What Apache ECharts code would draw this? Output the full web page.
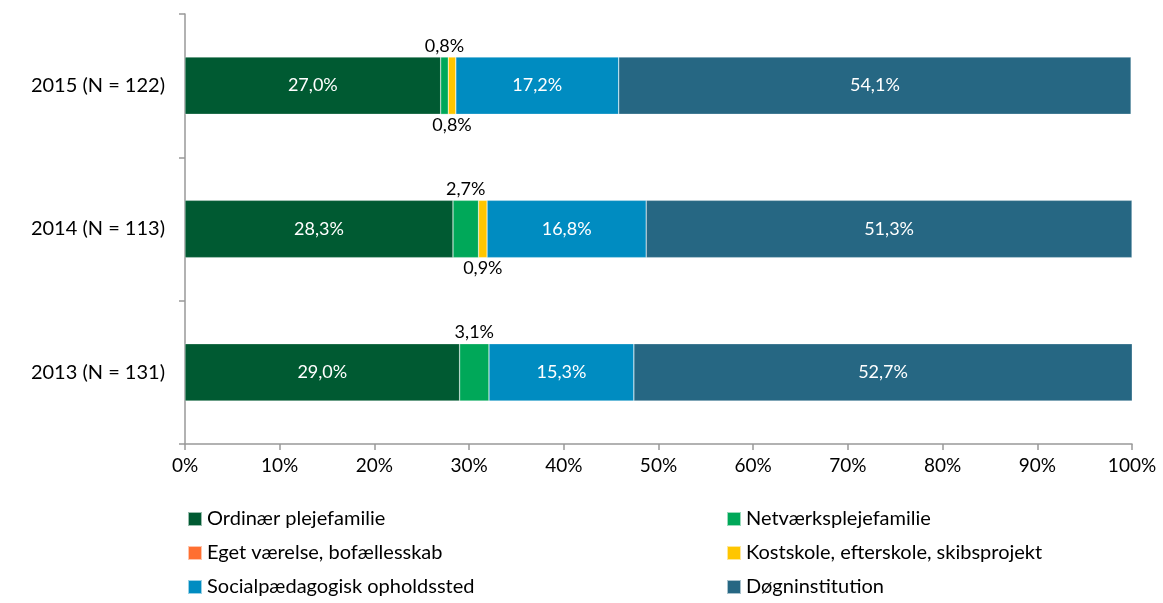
<!DOCTYPE html>
<html>
<head>
<meta charset="utf-8">
<script src="https://cdn.jsdelivr.net/npm/echarts@6/dist/echarts.min.js"></script>
<style>
  html, body { margin: 0; padding: 0; background: #fff; }
  #chart { width: 1163px; height: 603px; }
</style>
</head>
<body>
<div id="chart"></div>
<script>
// kategorier (nederst først)
const years = ['2013 (N = 131)', '2014 (N = 113)', '2015 (N = 122)'];
const seriesNames = [
  'Ordinær plejefamilie',
  'Netværksplejefamilie',
  'Eget værelse, bofællesskab',
  'Kostskole, efterskole, skibsprojekt',
  'Socialpædagogisk opholdssted',
  'Døgninstitution',
];
const colors = ['#005A32', '#00A859', '#FF6F31', '#FFC600', '#008CC1', '#266783'];

// andele i procent, rækkefølge som years
const ordinaer = [29.0, 28.3, 27.0];
const netvaerk = [3.1, 2.7, 0.8];
const egetVaerelse = [null, null, null];
const kostskole = [null, 0.9, 0.8];
const socialpaed = [15.3, 16.8, 17.2];
const doegn = [52.7, 51.3, 54.1];

const values = [ordinaer, netvaerk, egetVaerelse, kostskole, socialpaed, doegn];
const xTicks = ['0%', '10%', '20%', '30%', '40%', '50%', '60%', '70%', '80%', '90%', '100%'];

const fontFamily = 'Lato, "Open Sans", sans-serif';
const fmt = v => v.toFixed(1).replace('.', ',') + '%';

// små værdier får label uden for søjlen
const outsidePos = { 1: 'top', 3: 'bottom' };

const chart = echarts.init(document.getElementById('chart'));

const series = values.map((data, i) => ({
  name: seriesNames[i],
  type: 'bar',
  stack: 'total',
  barWidth: '40%',
  itemStyle: { color: colors[i], borderColor: 'rgba(255,255,255,0.6)', borderWidth: 0.5 },
  label: {
    show: true,
    position: outsidePos[i] || 'inside',
    color: outsidePos[i] ? '#000' : '#fff',
    fontSize: 18,
    fontFamily,
    distance: 2,
    formatter: p => (p.value == null ? '' : fmt(p.value)),
  },
  data,
}));

const legendBase = {
  orient: 'vertical',
  top: 504,
  itemWidth: 14,
  itemHeight: 14,
  itemGap: 14,
  icon: 'rect',
  textStyle: { color: '#000', fontSize: 20, fontFamily },
};

chart.setOption({
  animation: false,
  color: colors,
  grid: { left: 185, right: 31, top: 14, bottom: 159 },
  xAxis: {
    type: 'value',
    min: 0,
    max: 100,
    interval: 10,
    axisLine: { show: true, lineStyle: { color: '#999', width: 1.5 } },
    axisTick: { show: true, length: 6, lineStyle: { color: '#999', width: 1.5 } },
    splitLine: { show: false },
    axisLabel: {
      color: '#000',
      fontSize: 19,
      fontFamily,
      margin: 12,
      formatter: v => xTicks[Math.round(v / 10)],
    },
  },
  yAxis: {
    type: 'category',
    data: years,
    axisLine: { show: true, lineStyle: { color: '#999', width: 1.5 } },
    axisTick: { show: true, length: 6, lineStyle: { color: '#999', width: 1.5 } },
    axisLabel: { color: '#000', fontSize: 20, fontFamily, margin: 20 },
  },
  legend: [
    Object.assign({}, legendBase, {
      data: [seriesNames[0], seriesNames[2], seriesNames[4]],
      left: 182,
    }),
    Object.assign({}, legendBase, {
      data: [seriesNames[1], seriesNames[3], seriesNames[5]],
      left: 721,
    }),
  ],
  series,
});
</script>
</body>
</html>
